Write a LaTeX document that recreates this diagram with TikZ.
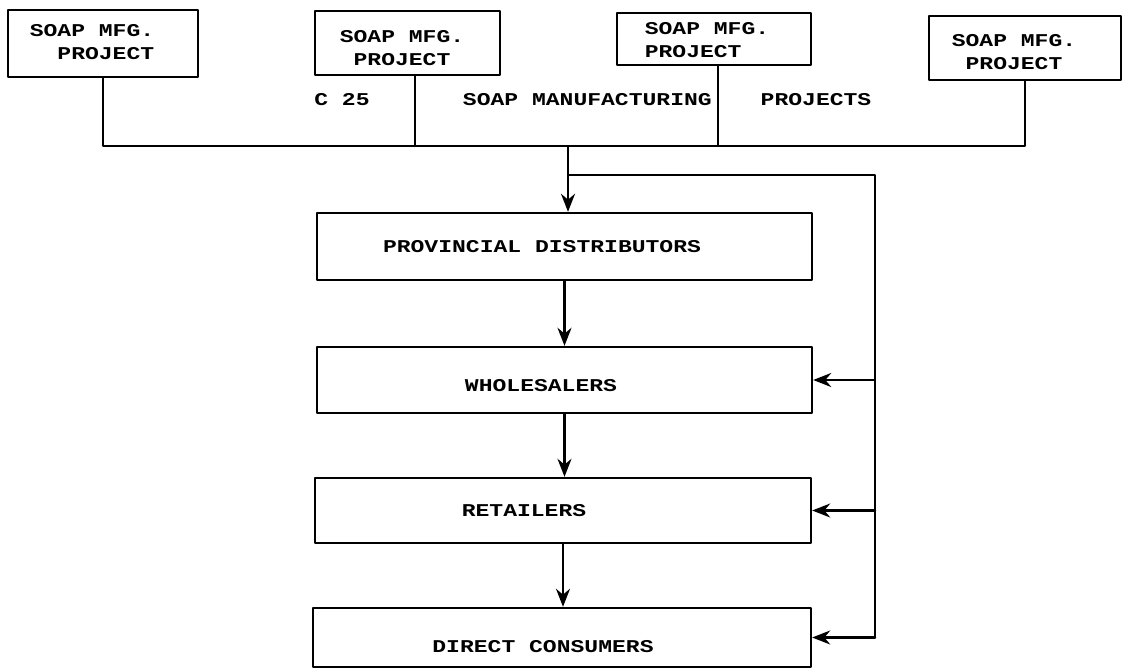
\documentclass[tikz,border=0pt]{standalone}
\usepackage{fontspec}
\newfontfamily\tw[FakeStretch=1.28]{Liberation Mono}
\usetikzlibrary{arrows.meta}
\begin{document}
\begin{tikzpicture}[x=1pt,y=-1pt,
  ln/.style={line width=2.4pt, line cap=round, line join=round},
  tfont/.style={font=\tw\bfseries\fontsize{18}{23}\selectfont},
  box/.style={draw, ln, rectangle, inner sep=0pt},
  txt/.style={tfont, inner sep=0pt},
  arr/.style={ln, -{Stealth[length=18pt,width=14pt]}},
]
\useasboundingbox (0,0) rectangle (1124,671);
% top project boxes
\node[box, minimum width=190pt, minimum height=67pt] (b1) at (103,43.5) {};
\node[box, minimum width=185pt, minimum height=64pt] (b2) at (407.5,43) {};
\node[box, minimum width=194pt, minimum height=52pt] (b3) at (714,39) {};
\node[box, minimum width=192pt, minimum height=64pt] (b4) at (1025,48) {};
\node[txt, align=right]  (t1) at (92,42.5) {SOAP MFG.\\PROJECT};
\node[txt, align=center] (t2) at (402,48) {SOAP MFG.\\PROJECT};
\node[txt, align=left]   (t3) at (707,40) {SOAP MFG.\\PROJECT};
\node[txt, align=center] (t4) at (1014,52) {SOAP MFG.\\PROJECT};
% flow boxes
\node[box, minimum width=495pt, minimum height=67pt] (prov) at (564.5,246.5) {};
\node[box, minimum width=495pt, minimum height=66pt] (ws)   at (564.5,380) {};
\node[box, minimum width=496pt, minimum height=65pt] (ret)  at (563,510.5) {};
\node[box, minimum width=498pt, minimum height=59pt] (dc)   at (562,637.5) {};
\node[txt] (ptxt) at (542,247) {PROVINCIAL DISTRIBUTORS};
\node[txt] (wtxt) at (541,386) {WHOLESALERS};
\node[txt] (rtxt) at (524,511) {RETAILERS};
\node[txt] (dtxt) at (543,647) {DIRECT CONSUMERS};
% bus labels
\node[txt] (l1) at (342,100) {C 25};
\node[txt, anchor=east] (l2) at (712,100) {SOAP MANUFACTURING};
\node[txt] (l3) at (816,100) {PROJECTS};
% coordinates
\coordinate (bus) at (0,146);
\coordinate (s2) at (415,146);
\coordinate (s3) at (718,146);
\coordinate (j) at (568,146);
\coordinate (br) at (568,175);
\coordinate (fb) at (875,175);
% bus and stems
\draw[ln] (b1.south) |- (b4.south |- bus) -- (b4.south);
\draw[ln] (b2.south -| s2) -- (s2);
\draw[ln] (b3.south -| s3) -- (s3);
% main flow
\draw[arr] (j) -- (j |- prov.north);
\draw[arr] (prov.south) -- (ws.north);
\draw[arr] (ws.south) -- (ws.south |- ret.north);
\draw[arr] (ret.south) -- (ret.south |- dc.north);
% direct feedback line
\draw[ln] (br) -| (fb |- dc.east);
\draw[arr] (fb |- ws.east) -- (ws.east);
\draw[arr] (fb |- ret.east) -- (ret.east);
\draw[arr] (fb |- dc.east) -- (dc.east);
\end{tikzpicture}
\end{document}
